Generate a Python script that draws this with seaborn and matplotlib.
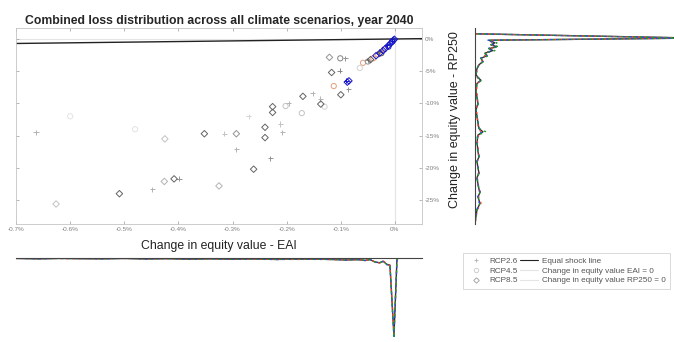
import numpy as np
import pandas as pd
import matplotlib
matplotlib.use("Agg")
import matplotlib.pyplot as plt
from matplotlib.colors import LinearSegmentedColormap
from matplotlib.lines import Line2D
import seaborn as sns

# ---------------- data (values in percent) ----------------
TITLE = "Combined loss distribution across all climate scenarios, year 2040"
XLABEL = "Change in equity value - EAI"
YLABEL = "Change in equity value - RP250"
SCENARIOS = ["RCP2.6", "RCP4.5", "RCP8.5"]

# RCP2.6 (+)
rcp26_eai = [-0.663, -0.448, -0.399, -0.315, -0.293, -0.212, -0.208, -0.230, -0.086, -0.102,
             -0.152, -0.196, -0.138, -0.092, -0.270, -0.050, -0.030, -0.015, -0.005, -0.090]
rcp26_rp = [-14.5, -23.3, -21.7, -14.7, -17.1, -13.2, -14.5, -18.5, -7.8, -4.9,
            -8.4, -10.0, -9.3, -3.0, -12.0, -3.3, -2.0, -1.0, -0.3, -6.5]
rcp26_w = [0.2, 0.2, 0.3, 0.15, 0.2, 0.15, 0.2, 0.3, 0.3, 0.35,
           0.2, 0.2, 0.2, 0.3, 0.1, 0.3, 0.5, 1.0, 1.0, 1.0]

# RCP4.5 (o)
rcp45_eai = [-0.101, -0.202, -0.172, -0.059, -0.050, -0.040, -0.031, -0.025, -0.020, -0.012,
             -0.113, -0.480, -0.600, -0.005, -0.065, -0.130]
rcp45_rp = [-3.0, -10.4, -11.5, -3.7, -3.5, -3.0, -2.4, -2.2, -1.6, -1.2,
            -7.3, -14.0, -12.0, -0.4, -4.5, -10.5]
rcp45_w = [0.35, 0.15, 0.15, 0.75, 0.3, 0.75, 0.75, 0.5, 0.75, 1.0,
           0.75, 0.05, 0.05, 1.0, 0.1, 0.1]

# RCP8.5 (diamond)
rcp85_eai = [-0.121, -0.117, -0.100, -0.137, -0.170, -0.226, -0.226, -0.240, -0.240, -0.261,
             -0.352, -0.408, -0.509, -0.293, -0.325, -0.425, -0.426, -0.626, -0.088, -0.085,
             -0.045, -0.035, -0.028, -0.022, -0.018, -0.012, -0.008, -0.005, -0.003, -0.001]
rcp85_rp = [-2.85, -5.2, -8.65, -10.1, -8.9, -10.5, -11.4, -13.7, -15.3, -20.2,
            -14.7, -21.7, -24.0, -14.7, -22.8, -15.5, -22.1, -25.6, -6.7, -6.5,
            -3.2, -2.6, -2.2, -1.8, -1.5, -1.0, -0.7, -0.4, -0.2, -0.05]
rcp85_w = [0.3, 0.45, 0.45, 0.45, 0.45, 0.45, 0.45, 0.45, 0.45, 0.45,
           0.45, 0.45, 0.45, 0.3, 0.2, 0.15, 0.2, 0.15, 1.0, 1.0,
           0.5, 1.0, 1.0, 1.0, 1.0, 1.0, 1.0, 1.0, 1.0, 1.0]

# equal shock line end points (EAI = RP250)
shock_x = [-0.7, 0.05]

# marginal density of RP250 (arbitrary units, peak = 100)
rp_grid = [1.7, 0.8, 0.2, 0.1, -0.2, -0.6, -0.9, -1.2, -1.5, -1.8,
           -2.2, -2.6, -3.0, -3.5, -4.0, -4.6, -5.5, -6.0, -6.4, -6.9,
           -8.0, -9.0, -10.0, -11.0, -12.0, -13.0, -13.9, -14.4, -14.9, -16.0,
           -17.5, -18.3, -19.0, -20.0, -20.8, -21.5, -22.5, -23.3, -23.8, -24.5,
           -25.5, -26.5, -27.5, -28.7]
rp_all = [0, 0, 100, 98, 7, 10, 8, 11, 7, 9, 5, 6, 3, 4, 2, 1, 0.5, 1.5, 3, 1,
          0.5, 1, 1.5, 0.5, 1, 1.5, 2, 4, 1.5, 1, 1.5, 2, 1, 1.5, 2, 1, 1.5, 2, 2.5, 1.5,
          2.5, 1, 0.5, 0]
rp_26 = [0, 0, 99, 97, 7, 9, 8, 10, 8, 8, 5, 5, 3.5, 3.5, 2, 1.2, 0.6, 1.2, 2.5, 1.2,
         0.7, 1.2, 1.3, 0.6, 1.2, 1.3, 1.8, 3, 1.8, 1.2, 1.8, 1.8, 1.2, 1.4, 2.2, 1.2, 1.4, 2.5, 2, 1.8,
         3, 1.2, 0.6, 0]
rp_45 = [0, 0, 98, 99, 6, 10, 9, 11, 6, 9, 5.5, 6, 2.5, 4, 2.2, 0.8, 0.4, 1.6, 3.2, 0.8,
         0.4, 0.9, 1.6, 0.4, 0.9, 1.6, 2.2, 3.8, 1.3, 0.9, 1.4, 2.2, 0.8, 1.6, 1.8, 0.9, 1.6, 1.8, 2.8, 1.3,
         2.2, 0.9, 0.4, 0]
rp_85 = [0, 0, 101, 100, 8, 11, 8, 12, 7, 10, 4.5, 7, 3, 4.5, 1.8, 1, 0.5, 1.5, 3.5, 1,
         0.5, 1, 1.7, 0.5, 1, 1.5, 2.2, 5.5, 1.5, 1, 1.5, 2, 1, 1.5, 2, 1, 1.5, 2, 2.5, 1.5,
         2.5, 1, 0.5, 0]

# marginal density of EAI (arbitrary units, peak = 100)
eai_grid = [-0.7, -0.66, -0.62, -0.58, -0.54, -0.5, -0.46, -0.42, -0.38, -0.34,
            -0.30, -0.26, -0.22, -0.18, -0.14, -0.11, -0.09, -0.07, -0.055, -0.046,
            -0.037, -0.028, -0.022, -0.015, -0.0092, -0.0018, 0.0037, 0.0055, 0.05]
eai_all = [0.5, 1, 0.5, 0.8, 1, 0.5, 1.2, 0.8, 1.5, 1, 1.5, 1.2, 1.8, 1.5, 1.5, 2, 2.5, 2, 3, 2,
           5, 6, 4, 8, 9, 98, 2.6, 0, 0]
eai_26 = [0.6, 0.8, 0.7, 1, 0.8, 0.7, 1, 1, 1.2, 1.2, 1.3, 1.5, 1.5, 1.8, 1.2, 2.3, 2.2, 2.4, 2.6, 2.5,
          4.5, 6.5, 3.5, 7.5, 9.5, 96, 2.4, 0, 0]
eai_45 = [0.4, 1.2, 0.4, 0.7, 1.2, 0.4, 1.4, 0.6, 1.7, 0.8, 1.7, 1, 2, 1.2, 1.8, 1.7, 2.8, 1.7, 3.3, 1.6,
          5.5, 5.5, 4.5, 8.5, 8.5, 99, 2.8, 0, 0]
eai_85 = [0.5, 1, 0.6, 0.8, 1, 0.6, 1.1, 0.9, 1.4, 1.1, 1.4, 1.3, 1.7, 1.6, 1.6, 1.9, 2.4, 2.2, 2.8, 2.2,
          5, 6, 4.2, 8, 9, 101, 2.6, 0, 0]

# ---------------- styling ----------------
sns.set_style("white")
plt.rcParams["font.family"] = ["Liberation Sans", "DejaVu Sans"]
plt.rcParams["axes.unicode_minus"] = False

W, H = 674, 342
fig = plt.figure(figsize=(W / 100, H / 100), dpi=100)

def box(l, t, r, b):
    return [l / W, 1 - b / H, (r - l) / W, (b - t) / H]

ax = fig.add_axes(box(16, 28, 422, 224))
axr = fig.add_axes(box(475, 28, 676, 224))
axb = fig.add_axes(box(16, 258, 422, 338))

XLIM = (-0.7, 0.05)
YLIM = (-28.7, 1.7)

cmap = LinearSegmentedColormap.from_list(
    "w", [(0.0, "#f2f2f2"), (0.5, "#555555"), (0.75, "#e9a07a"), (1.0, "#1515c8")])

# reference lines
ax.axvline(0, color="#e4e4e4", lw=0.8, zorder=0)
ax.axhline(0, color="#e4e4e4", lw=0.8, zorder=0)
sns.lineplot(x=shock_x, y=shock_x, color="#222222", lw=1.0, ax=ax, zorder=1,
             estimator=None, sort=False)

def scatter(xs, ys, ws, marker, size, hollow):
    sns.scatterplot(x=xs, y=ys, hue=ws, palette=cmap, hue_norm=(0, 1), marker=marker,
                    s=size, linewidth=0.7, ax=ax, legend=False, zorder=3)
    if hollow:
        coll = ax.collections[-1]
        fc = coll.get_facecolors()
        coll.set_edgecolors(fc)
        coll.set_facecolors("none")

scatter(rcp26_eai, rcp26_rp, rcp26_w, "+", 14, False)
scatter(rcp45_eai, rcp45_rp, rcp45_w, "o", 14, True)
scatter(rcp85_eai, rcp85_rp, rcp85_w, "D", 11, True)

ax.set_xlim(*XLIM)
ax.set_ylim(*YLIM)
xt = [-0.7, -0.6, -0.5, -0.4, -0.3, -0.2, -0.1, 0.0]
yt = [0, -5, -10, -15, -20, -25]
ax.set_xticks(xt)
ax.set_xticklabels(["%g%%" % v if v != 0 else "0%" for v in xt])
ax.set_yticks(yt)
ax.set_yticklabels(["%g%%" % v if v != 0 else "0%" for v in yt])
ax.yaxis.tick_right()
ax.tick_params(axis="both", which="both", direction="in", length=2.5, width=0.5,
               colors="#9a9a9a", labelsize=4.6, top=True, bottom=True, left=True, right=True,
               labelcolor="#808080", pad=2)
for sp in ax.spines.values():
    sp.set_color("#c4c4c4")
    sp.set_linewidth(0.6)
ax.set_xlabel("")
ax.set_ylabel("")
ax.set_title(TITLE, fontsize=8.8, fontweight="bold", pad=3)
fig.text(219 / W, 1 - 246 / H, XLABEL, ha="center", va="center", fontsize=8.8, color="#222222")

# right marginal (RP250 density)
sns.lineplot(x=rp_all, y=rp_grid, orient="y", sort=False, estimator=None, ax=axr,
             color="#333333", lw=1.0)
for dens, col, off in [(rp_26, "#e8452c", 0), (rp_45, "#2d4ee0", 1.5), (rp_85, "#1f9a30", 3)]:
    sns.lineplot(x=dens, y=rp_grid, orient="y", sort=False, estimator=None, ax=axr,
                 color=col, lw=1.0, linestyle=(off, (1.5, 3)))
axr.set_xlim(0, 101)
axr.set_ylim(*YLIM)
axr.set_xticks([])
axr.set_yticks([])
axr.set_xlabel("")
axr.set_ylabel("")
for k, sp in axr.spines.items():
    sp.set_visible(k == "left")
axr.spines["left"].set_color("#444444")
axr.spines["left"].set_linewidth(0.8)
fig.text(455 / W, 1 - 120 / H, YLABEL, rotation=90, ha="center", va="center",
         fontsize=9.0, color="#222222")

# bottom marginal (EAI density)
sns.lineplot(x=eai_grid, y=eai_all, sort=False, estimator=None, ax=axb,
             color="#333333", lw=1.0)
for dens, col, off in [(eai_26, "#e8452c", 0), (eai_45, "#2d4ee0", 1.5), (eai_85, "#1f9a30", 3)]:
    sns.lineplot(x=eai_grid, y=dens, sort=False, estimator=None, ax=axb,
                 color=col, lw=1.0, linestyle=(off, (1.5, 3)))
axb.set_xlim(*XLIM)
axb.set_ylim(101, 0)
axb.set_xticks([])
axb.set_yticks([])
axb.set_xlabel("")
axb.set_ylabel("")
for k, sp in axb.spines.items():
    sp.set_visible(k == "top")
axb.spines["top"].set_color("#444444")
axb.spines["top"].set_linewidth(0.8)

# legend
handles = [
    Line2D([], [], ls="none", marker="+", color="#b0b0b0", ms=3.5, mew=0.6),
    Line2D([], [], ls="none", marker="o", mfc="none", mec="#c8c8c8", ms=3.2, mew=0.6),
    Line2D([], [], ls="none", marker="D", mfc="none", mec="#9a9a9a", ms=2.8, mew=0.6),
    Line2D([], [], color="#222222", lw=0.8),
    Line2D([], [], color="#e4e4e4", lw=0.8),
    Line2D([], [], color="#e4e4e4", lw=0.8),
]
labels = SCENARIOS + ["Equal shock line", "Change in equity value EAI = 0",
                      "Change in equity value RP250 = 0"]
leg = fig.legend(handles, labels, ncol=2, loc="upper left",
                 bbox_to_anchor=(463 / W, 1 - 253 / H), fontsize=5.9, frameon=True,
                 fancybox=False, borderpad=0.5, labelspacing=0.25, handlelength=2.2,
                 handletextpad=0.5, columnspacing=0.3, borderaxespad=0)
leg.get_frame().set_edgecolor("#c8c8c8")
leg.get_frame().set_linewidth(0.6)
for t in leg.get_texts():
    t.set_color("#555555")

fig.savefig("out.png", dpi=100)
